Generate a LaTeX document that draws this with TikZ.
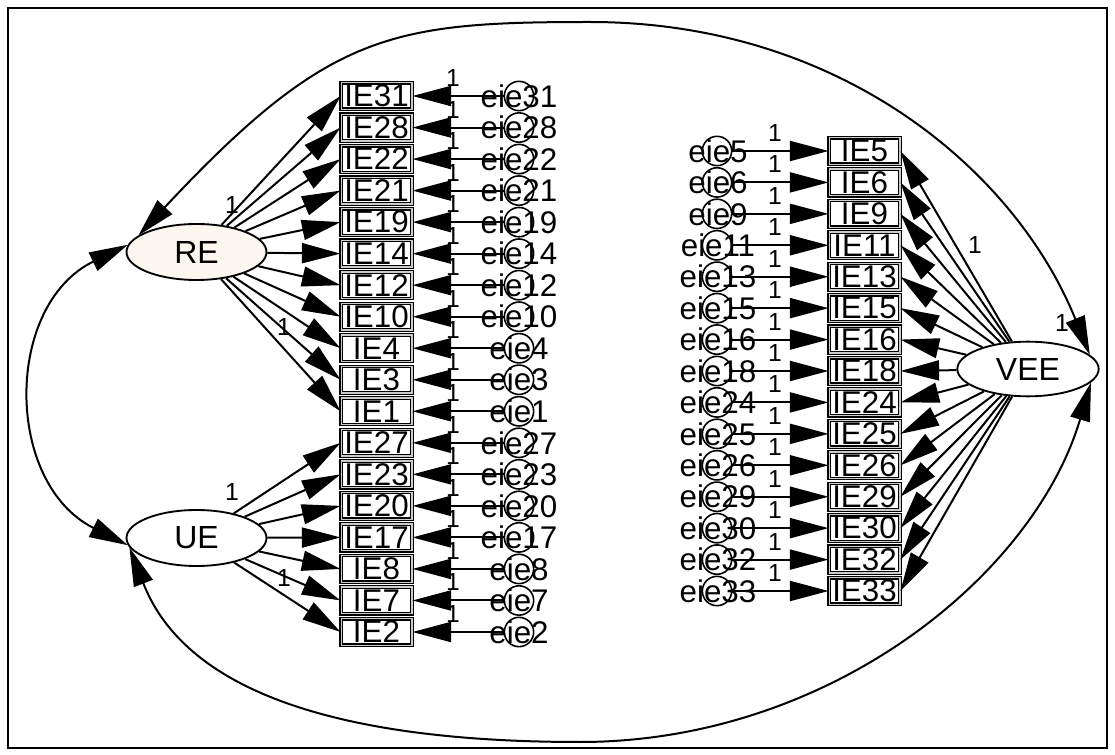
\documentclass[tikz,border=0pt]{standalone}
\usepackage{fontspec}
\setmainfont{Liberation Sans}
\usetikzlibrary{arrows.meta,shapes.geometric}
\definecolor{cream}{RGB}{252,247,238}
\begin{document}
\begin{tikzpicture}[x=0.75pt,y=-0.75pt,
  obs/.style={draw, double=gray!40, double distance=1pt, line width=0.9pt,
    minimum width=53pt, minimum height=20pt, inner sep=0pt,
    font=\fontsize{23.5}{23.5}\selectfont},
  lat/.style={ellipse, draw, line width=1.4pt, minimum width=105pt,
    minimum height=42pt, inner sep=0pt, font=\fontsize{24}{24}\selectfont},
  errc/.style={circle, draw, line width=1.2pt, minimum size=22pt, inner sep=0pt},
  errt/.style={inner sep=0pt, font=\fontsize{23.5}{23.5}\selectfont},
  lbl/.style={inner sep=0pt, font=\fontsize{18.5}{18.5}\selectfont},
  arr/.style={-{Triangle[length=29pt,width=15pt]}, line width=1.5pt},
  cov/.style={{Triangle[length=29pt,width=15pt]}-{Triangle[length=29pt,width=15pt]}, line width=1.5pt}
]
\useasboundingbox (0,0) rectangle (1115,755);
\draw[line width=1.5pt] (8,8) rectangle (1107,748);

% latent variables
\node[lat, fill=cream] (RE) at (196.5,252) {RE};
\node[lat, fill=white] (UE) at (196.5,538) {UE};
\node[lat, fill=white, minimum width=106pt, minimum height=41pt] (VEE) at (1028,369) {VEE};

% left indicators
\foreach \n [count=\i from 0] in {31,28,22,21,19,14,12,10,4,3,1,27,23,20,17,8,7,2} {
  \pgfmathsetmacro\yy{96+31.53*\i}
  \node[obs] (IE\n) at (376.5,\yy) {IE\n};
  \node[errt] (te\n) at (519,\yy) {eie\n};
  \node[errc] (e\n) at (519,\yy) {};
  \draw[arr] (e\n) -- (IE\n.east);
  \node[lbl] (l\n) at (453,{\yy-18}) {1};
}

% right indicators
\foreach \n [count=\i from 0] in {5,6,9,11,13,15,16,18,24,25,26,29,30,32,33} {
  \pgfmathsetmacro\yy{151+31.43*\i}
  \node[obs] (IE\n) at (864.5,\yy) {IE\n};
  \node[errt] (te\n) at (718,\yy) {eie\n};
  \node[errc] (e\n) at (717,\yy) {};
  \draw[arr] (e\n) -- (IE\n.west);
  \node[lbl] (l\n) at (775,{\yy-18}) {1};
}

% loadings
\foreach \n in {31,28,22,21,19,14,12,10,4,3,1} \draw[arr] (RE) -- (IE\n.west);
\foreach \n in {27,23,20,17,8,7,2} \draw[arr] (UE) -- (IE\n.west);
\foreach \n in {5,6,9,11,13,15,16,18,24,25,26,29,30,32,33} \draw[arr] (VEE) -- (IE\n.east);

% loading labels
\node[lbl] (r1) at (232,205) {1};
\node[lbl] (r2) at (284,327) {1};
\node[lbl] (u1) at (232,492) {1};
\node[lbl] (u2) at (284,578) {1};
\node[lbl] (v1) at (975,245) {1};
\node[lbl] (c1) at (1062,323) {1};

% covariances
\draw[cov] (RE.174) .. controls (4,305) and (4,483) .. (UE.186);
\draw[cov] (RE.164) .. controls (328,33) and (390,22) .. (590,22)
  .. controls (840,22) and (1015,170) .. (VEE.13);
\draw[cov] (UE.188) .. controls (184,688) and (330,742) .. (580,742)
  .. controls (830,742) and (1034,575) .. (VEE.348);
\end{tikzpicture}
\end{document}
